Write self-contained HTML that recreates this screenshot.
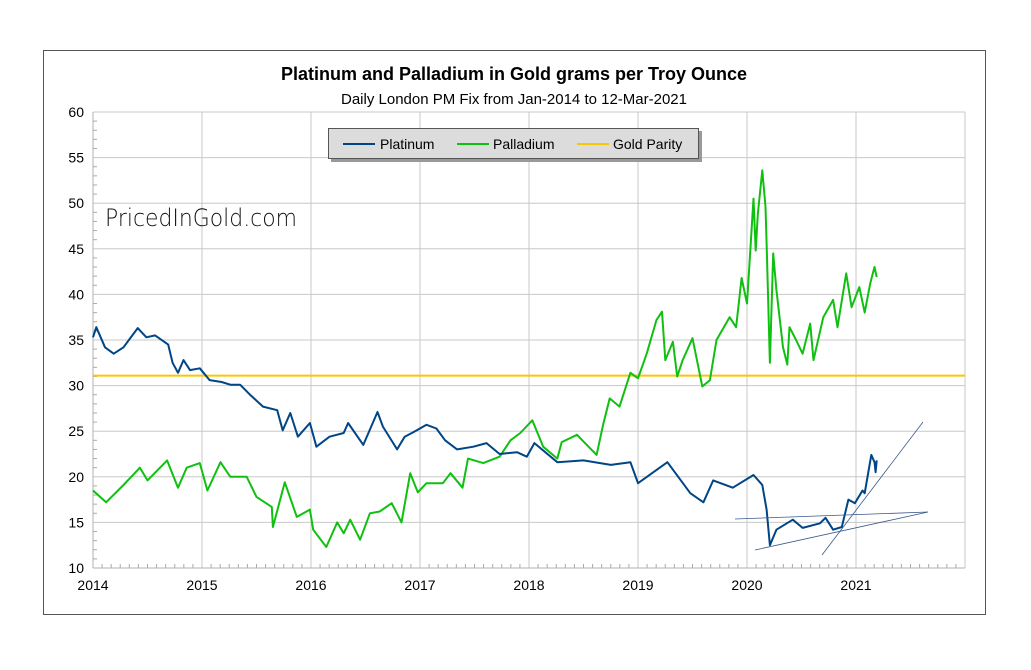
<!DOCTYPE html>
<html><head><meta charset="utf-8"><style>
body{margin:0;background:#fff;width:1031px;height:665px;overflow:hidden;font-family:"Liberation Sans",sans-serif}
</style></head><body>
<svg id="chart" width="1031" height="665" xmlns="http://www.w3.org/2000/svg" font-family="Liberation Sans, sans-serif">
<rect x="43.5" y="50.5" width="942" height="564" fill="#fff" stroke="#555" stroke-width="1"/>
<text x="514" y="80" text-anchor="middle" font-size="18" font-weight="bold">Platinum and Palladium in Gold grams per Troy Ounce</text>
<text x="514" y="104" text-anchor="middle" font-size="15">Daily London PM Fix from Jan-2014 to 12-Mar-2021</text>
<g id="grid"></g>
<g id="axes"></g>
<text x="105" y="226" font-size="24" font-family="DejaVu Sans, sans-serif" font-weight="200" fill="#111" textLength="192" lengthAdjust="spacingAndGlyphs">PricedInGold.com</text>
<g id="series"></g>
<g stroke="#3a5a8a" stroke-width="0.8">
<line x1="735" y1="519" x2="928" y2="512"/>
<line x1="755" y1="550" x2="928" y2="512"/>
<line x1="822" y1="555" x2="923" y2="422"/>
</g>
<g>
<rect x="331" y="131" width="371" height="31" fill="#999"/>
<rect x="328.5" y="128.5" width="370" height="30" fill="#dcdcdc" stroke="#555"/>
<g><line x1="343" y1="144" x2="375" y2="144" stroke="#004586" stroke-width="2"/><text x="380" y="149" font-size="14">Platinum</text></g>
<g><line x1="457" y1="144" x2="489" y2="144" stroke="#10c010" stroke-width="2"/><text x="493" y="149" font-size="14">Palladium</text></g>
<g><line x1="577" y1="144" x2="609" y2="144" stroke="#f5c800" stroke-width="2"/><text x="613" y="149" font-size="14">Gold Parity</text></g>
</g>
</svg>
<script>
const xTicks=[2014,2015,2016,2017,2018,2019,2020,2021,2022];
const xTickLabels=["2014","2015","2016","2017","2018","2019","2020","2021",""];
const yTicks=[10,15,20,25,30,35,40,45,50,55,60];
const goldParity=31.1;
const platT=[2014.0,2014.03,2014.11,2014.19,2014.28,2014.41,2014.49,2014.57,2014.69,2014.73,2014.78,2014.83,2014.89,2014.98,2015.07,2015.18,2015.26,2015.35,2015.44,2015.56,2015.69,2015.74,2015.81,2015.88,2015.99,2016.05,2016.17,2016.3,2016.34,2016.48,2016.61,2016.66,2016.79,2016.86,2016.94,2017.06,2017.15,2017.23,2017.34,2017.49,2017.61,2017.73,2017.89,2017.98,2018.05,2018.26,2018.5,2018.75,2018.93,2019.0,2019.27,2019.48,2019.6,2019.69,2019.87,2020.06,2020.14,2020.18,2020.21,2020.27,2020.42,2020.51,2020.67,2020.72,2020.79,2020.87,2020.93,2020.99,2021.06,2021.08,2021.14,2021.17,2021.18,2021.19];
const platV=[35.3,36.4,34.2,33.5,34.2,36.3,35.3,35.5,34.5,32.5,31.4,32.8,31.7,31.9,30.6,30.4,30.1,30.1,29,27.7,27.3,25.1,27,24.4,25.9,23.3,24.4,24.8,25.9,23.5,27.1,25.5,23,24.4,24.9,25.7,25.3,24,23,23.3,23.7,22.5,22.7,22.2,23.7,21.6,21.8,21.3,21.6,19.3,21.6,18.2,17.2,19.6,18.8,20.2,19.1,16.4,12.5,14.2,15.3,14.4,14.9,15.5,14.2,14.5,17.5,17.1,18.5,18.2,22.4,21.6,20.5,21.8];
const pallT=[2014.0,2014.12,2014.28,2014.43,2014.5,2014.68,2014.78,2014.86,2014.98,2015.05,2015.17,2015.26,2015.41,2015.5,2015.64,2015.65,2015.76,2015.87,2015.99,2016.02,2016.14,2016.24,2016.3,2016.36,2016.45,2016.54,2016.63,2016.74,2016.83,2016.91,2016.98,2017.06,2017.21,2017.28,2017.39,2017.44,2017.58,2017.73,2017.83,2017.92,2018.03,2018.13,2018.26,2018.3,2018.44,2018.53,2018.62,2018.68,2018.74,2018.83,2018.93,2019.0,2019.08,2019.17,2019.22,2019.25,2019.32,2019.36,2019.41,2019.5,2019.59,2019.66,2019.72,2019.84,2019.9,2019.95,2020.0,2020.03,2020.06,2020.08,2020.1,2020.14,2020.17,2020.18,2020.21,2020.24,2020.27,2020.33,2020.37,2020.39,2020.45,2020.51,2020.58,2020.61,2020.7,2020.79,2020.83,2020.91,2020.96,2021.03,2021.08,2021.13,2021.17,2021.19];
const pallV=[18.5,17.2,19.1,21,19.6,21.8,18.8,21,21.5,18.5,21.6,20,20,17.8,16.7,14.5,19.4,15.6,16.4,14.2,12.3,15,13.8,15.3,13.1,16,16.2,17.1,15,20.4,18.3,19.3,19.3,20.4,18.8,22,21.5,22.2,24,24.8,26.2,23.3,22,23.8,24.6,23.5,22.4,25.7,28.6,27.7,31.4,30.8,33.5,37.2,38.1,32.8,34.8,31,32.8,35.2,29.9,30.6,35,37.5,36.4,41.8,39,44.8,50.5,44.8,48.9,53.6,49.6,45.6,32.5,44.5,40.5,34.2,32.3,36.4,35,33.5,36.8,32.8,37.5,39.4,36.4,42.3,38.6,40.8,38,41.2,43,41.9];

const L=93,R=965,T=112,B=568;
const xS=t=>L+(t-2014)/(2022-2014)*(R-L);
const yS=v=>B-(v-10)/(60-10)*(B-T);
const NS="http://www.w3.org/2000/svg";
function mk(tag,attrs,parent){const e=document.createElementNS(NS,tag);for(const k in attrs)e.setAttribute(k,attrs[k]);parent.appendChild(e);return e;}
const grid=document.getElementById('grid'),axes=document.getElementById('axes'),ser=document.getElementById('series');
yTicks.forEach(v=>{
  const g=mk('line',{x1:L,x2:R,y1:yS(v),y2:yS(v),stroke:'#c8c8c8','stroke-width':1},grid);
  
  
  const t=mk('text',{x:84,y:yS(v)+5,'text-anchor':'end','font-size':14},axes);
  t.textContent=v;
  
  
});
for(let v=10;v<60;v++){if(v%5)mk('line',{x1:L,x2:L+4,y1:yS(v),y2:yS(v),stroke:'#aaa'},axes);}
xTicks.forEach((t,i)=>{
  const g=mk('line',{x1:xS(t),x2:xS(t),y1:T,y2:B,stroke:'#c8c8c8','stroke-width':1},grid);
  
  
  const tx=mk('text',{x:xS(t),y:B+22,'text-anchor':'middle','font-size':14},axes);
  tx.textContent=xTickLabels[i];
  
  
  if(i<xTicks.length-1)for(let m=1;m<12;m++)mk('line',{x1:xS(t+m/12),x2:xS(t+m/12),y1:B-4,y2:B,stroke:'#aaa'},axes);
});
mk('line',{x1:L,x2:R,y1:B,y2:B,stroke:'#b0b0b0'},axes);
mk('line',{x1:L,x2:L,y1:T,y2:B,stroke:'#b0b0b0'},axes);
const gp=mk('line',{x1:L,x2:R,y1:yS(goldParity),y2:yS(goldParity),stroke:'#f5c800','stroke-width':2},ser);


function path(ts,vs,color){return ts.map((t,i)=>(i?'L':'M')+xS(t).toFixed(1)+','+yS(vs[i]).toFixed(1)).join('');}
const pl=mk('path',{d:path(pallT,pallV),fill:'none',stroke:'#10c010','stroke-width':2,'stroke-linejoin':'round'},ser);


const pt=mk('path',{d:path(platT,platV),fill:'none',stroke:'#004586','stroke-width':2,'stroke-linejoin':'round'},ser);


</script>
</body></html>
